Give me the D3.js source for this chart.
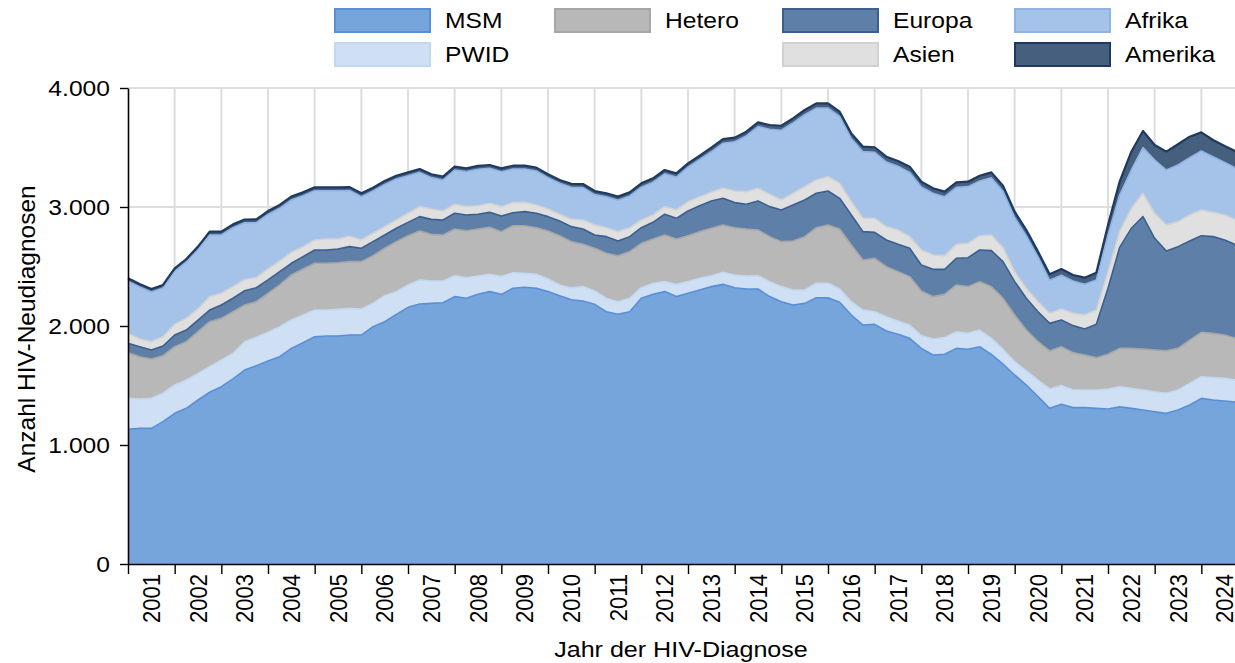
<!DOCTYPE html>
<html>
<head>
<meta charset="utf-8">
<script src="https://cdn.jsdelivr.net/npm/d3@7"></script>
<style>
  body { margin: 0; background: #fff; }
  text { font-family: "Liberation Sans", Arial, sans-serif; font-size: 22px; fill: #000; }
</style>
</head>
<body>
<svg class="plot" width="1235" height="663"></svg>
<script>
// quarterly values, 2001 Q1 .. 2024 Q4
var years = [2001, 2002, 2003, 2004, 2005, 2006, 2007, 2008, 2009, 2010, 2011, 2012,
             2013, 2014, 2015, 2016, 2017, 2018, 2019, 2020, 2021, 2022, 2023, 2024];

var msm = [1132,1140,1140,1196, 1266,1308,1378,1443, 1490,1555,1630,1667, 1706,1742,1812,1860,
           1910,1916,1916,1924, 1924,1994,2036,2098, 2157,2185,2190,2196, 2247,2233,2266,2289,
           2266,2317,2325,2317, 2289,2255,2220,2210, 2182,2120,2098,2120, 2233,2266,2289,2247,
           2275,2303,2331,2350, 2322,2311,2311,2247, 2204,2176,2190,2238, 2238,2199,2092,2008,
           2014,1958,1930,1896, 1812,1756,1762,1812, 1804,1826,1762,1680, 1588,1504,1406,1308,
           1342,1314,1314,1308, 1303,1322,1308,1294, 1280,1266,1294,1336, 1392,1378,1370,1359];

var pwid = [260,247,252,239, 238,238,224,215, 224,215,238,238, 241,252,238,232,
            224,218,224,224, 219,196,219,191, 188,202,188,182, 176,173,154,145,
            149,131,118,117, 106,90,100,121, 112,113,106,113, 89,93,84,103,
            98,98,92,101, 107,109,112,126, 127,127,113,121, 121,112,112,126,
            106,120,112,112, 107,135,140,140, 134,140,134,125, 112,118,140,163,
            157,148,148,154, 168,168,168,168, 168,169,168,182, 182,188,190,187];

var hetero = [384,355,331,315, 322,322,350,378, 350,350,308,299, 328,351,379,387,
              393,393,392,393, 398,401,398,420, 414,411,392,387, 392,395,395,395,
              378,395,400,392, 403,414,389,355, 359,378,387,392, 373,372,392,381,
              386,392,398,398, 397,395,384,378, 378,411,448,467, 490,504,477,421,
              449,421,415,407, 375,356,364,393, 393,407,435,428, 392,344,322,319,
              327,314,294,272, 291,322,336,344, 350,357,350,364, 373,372,364,350];

var europa = [79,84,75,82, 98,98,98,98, 112,113,120,118, 112,112,98,104,
              112,112,115,126, 112,118,112,112, 112,121,126,126, 132,132,124,126,
              131,109,118,121, 121,123,126,129, 112,140,123,126, 131,140,174,174,
              207,218,229,224, 211,208,243,252, 266,303,308,289, 285,258,252,238,
              218,224,229,238, 219,229,210,224, 243,266,302,308, 281,267,252,232,
              224,227,219,280, 555,849,1009,1113, 939,838,855,832, 812,813,799,785];

var asien = [83,65,70,78, 90,98,93,113, 99,98,95,84, 92,89,92,84,
             84,92,84,88, 70,70,70,70, 76,84,87,75, 76,70,72,76,
             79,85,78,70, 64,57,63,76, 84,75,79,75, 65,62,64,70,
             79,76,73,84, 97,106,107,104, 84,98,112,112, 121,126,112,112,
             118,112,121,98, 126,121,115,117, 121,120,132,119, 84,84,84,85,
             93,104,117,120, 140,132,168,196, 210,219,210,219, 216,204,210,210];

var afrika = [438,437,418,410, 446,474,499,518, 490,495,476,462, 459,443,440,428,
              414,406,406,384, 364,355,355,344, 316,288,264,261, 288,294,306,294,
              294,282,280,286, 264,260,267,272, 255,259,264,267, 276,276,276,276,
              290,312,341,379, 414,469,519,547, 586,592,604,604, 576,562,530,560,
              555,543,535,540, 529,518,496,479, 476,459,481,473, 454,440,376,277,
              284,272,259,252, 308,308,322,384, 448,462,476,482, 496,468,442,434];

var amerika = [25,25,25,25, 25,25,25,28, 28,28,28,28, 28,28,28,28,
               28,28,28,28, 28,28,28,28, 28,28,28,28, 28,28,28,28,
               28,28,28,28, 28,28,30,30, 30,30,30,30, 32,32,32,32,
               32,32,35,35, 35,35,35,35, 38,38,40,40, 40,40,42,42,
               42,45,45,48, 45,42,42,42, 42,45,45,45, 50,50,45,50,
               52,50,55,62, 84,112,154,140, 126,154,174,176, 156,140,138,140];

var yTicks = [0, 1000, 2000, 3000, 4000];

var keys = ["MSM", "PWID", "Hetero", "Europa", "Asien", "Afrika", "Amerika"];
var fills = {MSM: "#76a5dc", PWID: "#cfe0f4", Hetero: "#b8b8b8", Europa: "#5e7fa8",
             Asien: "#e0e0e0", Afrika: "#a5c3e8", Amerika: "#465f7f"};
var strokes = {MSM: "#5a8fd8", PWID: "#c2d7f0", Hetero: "#a6a6a6", Europa: "#3b5f8f",
               Asien: "#d2d2d2", Afrika: "#8fb4e3", Amerika: "#1e3a5f"};

var svg = d3.select(".plot"),
    margin = {top: 88, left: 128},
    width = 1120,   // runs past the right edge, like the reference
    height = 476,
    sx = 1.12;      // reference text is slightly stretched horizontally

var de = d3.formatLocale({decimal: ",", thousands: ".", grouping: [3], currency: ["", " €"]});

var x = d3.scaleLinear().domain([2001, 2025]).range([0, width]),
    y = d3.scaleLinear().domain([0, 4000]).range([height, 0]);

var g = svg.append("g")
    .attr("transform", "translate(" + margin.left + "," + margin.top + ")");

// build table for the stack
var table = [];
years.forEach(function(yr, yi) {
  for (var q = 0; q < 4; q++) {
    var i = yi * 4 + q;
    table.push({t: yr + q / 4, MSM: msm[i], PWID: pwid[i], Hetero: hetero[i], Europa: europa[i],
                Asien: asien[i], Afrika: afrika[i], Amerika: amerika[i]});
  }
});
var series = d3.stack().keys(keys)(table);

//grid
g.append("g").selectAll("line")
    .data(years.slice(1).concat([2025]))
    .enter().append("line")
    .attr("x1", function(d) { return x(d); })
    .attr("x2", function(d) { return x(d); })
    .attr("y1", 0).attr("y2", height)
    .style("stroke", "#dedede").style("stroke-width", 2);

g.append("g").selectAll("line")
    .data(yTicks.slice(1))
    .enter().append("line")
    .attr("x1", 0).attr("x2", width)
    .attr("y1", function(d) { return y(d); })
    .attr("y2", function(d) { return y(d); })
    .style("stroke", "#dedede").style("stroke-width", 2);

//areas
var area = d3.area()
    .x(function(d) { return x(d.data.t); })
    .y0(function(d) { return y(d[0]); })
    .y1(function(d) { return y(d[1]); });

var topLine = d3.line()
    .x(function(d) { return x(d.data.t); })
    .y(function(d) { return y(d[1]); });

g.selectAll(".layer")
    .data(series)
    .enter().append("path")
    .attr("class", "layer")
    .attr("d", area)
    .style("fill", function(d) { return fills[d.key]; });

g.selectAll(".edge")
    .data(series)
    .enter().append("path")
    .attr("class", "edge")
    .attr("d", topLine)
    .style("fill", "none")
    .style("stroke", function(d) { return strokes[d.key]; })
    .style("stroke-width", function(d) { return d.key == "Amerika" ? 2.2 : 1.6; })
    .style("stroke-linejoin", "round");

//axes
var yAxis = g.append("g")
    .call(d3.axisLeft(y).tickValues(yTicks).tickSize(8).tickSizeOuter(0).tickPadding(10)
          .tickFormat(de.format(",")));
yAxis.selectAll("text")
    .attr("x", 0)
    .attr("transform", "translate(-18,0) scale(" + sx + ",1)")
    .style("font-size", "22px").style("font-family", null);

var xAxis = g.append("g")
    .attr("transform", "translate(0," + height + ")")
    .call(d3.axisBottom(x).tickValues(years.concat([2025])).tickSize(10).tickSizeOuter(0).tickFormat(""));

g.selectAll(".domain").style("stroke", "#000").style("stroke-width", 1.6);
g.selectAll(".tick line").style("stroke", "#000").style("stroke-width", 1.4);

g.append("g").selectAll("text")
    .data(years)
    .enter().append("text")
    .attr("transform", function(d) {
      return "translate(" + x(d + 0.5) + "," + (height + 10) + ") scale(" + sx + ",1) rotate(-90)";
    })
    .attr("dy", "0.35em")
    .style("text-anchor", "end")
    .text(function(d) { return d; });

//titles
svg.append("text")
    .attr("transform", "translate(681,657) scale(1.14,1)")
    .style("text-anchor", "middle")
    .text("Jahr der HIV-Diagnose");

svg.append("text")
    .attr("transform", "translate(35,329) rotate(-90)")
    .style("text-anchor", "middle")
    .style("font-size", "24.5px")
    .text("Anzahl HIV-Neudiagnosen");

//legend
var legendItems = [
  {key: "MSM", col: 0, row: 0}, {key: "PWID", col: 0, row: 1},
  {key: "Hetero", col: 1, row: 0},
  {key: "Europa", col: 2, row: 0}, {key: "Asien", col: 2, row: 1},
  {key: "Afrika", col: 3, row: 0}, {key: "Amerika", col: 3, row: 1}
];
var colX = [334, 554, 782, 1014], rowY = [8, 42];

var legend = svg.append("g").selectAll("g")
    .data(legendItems)
    .enter().append("g")
    .attr("transform", function(d) { return "translate(" + colX[d.col] + "," + rowY[d.row] + ")"; });

legend.append("rect")
    .attr("x", 1).attr("y", 1)
    .attr("width", 95).attr("height", 23)
    .style("fill", function(d) { return fills[d.key]; })
    .style("stroke", function(d) { return strokes[d.key]; })
    .style("stroke-width", 2);

legend.append("text")
    .attr("transform", "translate(111,20) scale(" + sx + ",1)")
    .text(function(d) { return d.key; });
</script>
</body>
</html>
